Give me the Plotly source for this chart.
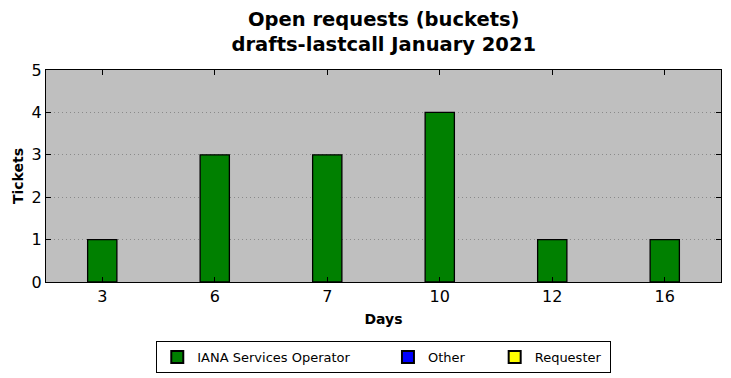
import plotly.graph_objects as go

days = ["3", "6", "7", "10", "12", "16"]
iana = [1, 3, 3, 4, 1, 1]
other = [0, 0, 0, 0, 0, 0]
requester = [0, 0, 0, 0, 0, 0]

NB = "\u00a0"

fig = go.Figure()
fig.add_trace(go.Bar(x=days, y=iana, name="IANA Services Operator" + NB * 8,
                     marker=dict(color="#008000", line=dict(color="black", width=1.3)),
                     width=0.26))
fig.add_trace(go.Bar(x=days, y=[None if v == 0 else v for v in other], name="Other" + NB * 6,
                     marker=dict(color="#0000ff", line=dict(color="black", width=1.3)),
                     width=0.26))
fig.add_trace(go.Bar(x=days, y=[None if v == 0 else v for v in requester], name="Requester" + NB,
                     marker=dict(color="#ffff00", line=dict(color="black", width=1.3)),
                     width=0.26))

fig.update_layout(
    width=731, height=378,
    barmode="overlay",
    paper_bgcolor="white",
    plot_bgcolor="#bfbfbf",
    margin=dict(l=46, r=10, t=70, b=96, autoexpand=False),
    font=dict(family="DejaVu Sans", color="black"),
    title=dict(text="<b>Open requests (buckets)<br>drafts-lastcall January 2021</b>",
               x=0.525, xanchor="center", y=0.931, yanchor="top",
               font=dict(size=19.5, family="DejaVu Sans")),
    xaxis=dict(type="category", range=[-0.5, 5.5], automargin=False,
               showline=True, linecolor="black", linewidth=1.2, mirror="ticks",
               ticks="inside", ticklen=5, tickcolor="black",
               showgrid=False, tickfont=dict(size=16),
               title=dict(text="<b>Days</b>", font=dict(size=14), standoff=8)),
    yaxis=dict(range=[0, 5], dtick=1, automargin=False,
               showline=True, linecolor="black", linewidth=1.2, mirror="ticks",
               ticks="inside", ticklen=5, tickcolor="black",
               showgrid=True, gridcolor="#8a8a8a", griddash="1px,3px", gridwidth=1,
               zeroline=False, tickfont=dict(size=16),
               title=dict(text="<b>Tickets</b>", font=dict(size=14), standoff=4)),
    legend=dict(orientation="h", xref="container", x=0.525, xanchor="center",
                yref="container", y=1 - 341 / 378, yanchor="top",
                bordercolor="black", borderwidth=1, font=dict(size=13),
                itemsizing="constant", traceorder="normal"),
    showlegend=True,
)

fig.write_html("out.html", config={"displayModeBar": False},
               post_script="document.body.style.margin='0px';")
